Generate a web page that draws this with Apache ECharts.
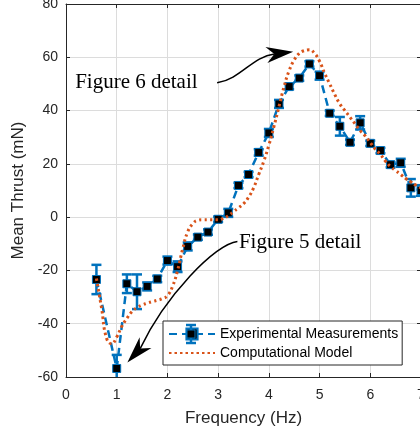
<!DOCTYPE html>
<html>
<head>
<meta charset="utf-8">
<script src="https://cdn.jsdelivr.net/npm/echarts@6/dist/echarts.min.js"></script>
<style>
html, body { margin: 0; padding: 0; background: #fff; }
#chart { width: 420px; height: 431px; }
</style>
</head>
<body>
<div id="chart"></div>
<script>
// experimental measurements (Hz, mN) with +/- error
var expFreq = [0.6, 1.0, 1.2, 1.4, 1.6, 1.8, 2.0, 2.2, 2.4, 2.6, 2.8, 3.0, 3.2, 3.4, 3.6, 3.8,
    4.0, 4.2, 4.4, 4.6, 4.8, 5.0, 5.2, 5.4, 5.6, 5.8, 6.0, 6.2, 6.4, 6.6, 6.8, 7.0];
var expThrust = [-23.4, -56.8, -25, -28, -26, -23.2, -16.3, -18.6, -11, -7.5, -5.6, -0.8, 1.6, 11.9, 16, 24.3,
    31.6, 42.5, 49, 52.2, 57.5, 53.1, 39, 34.1, 28.1, 35.4, 27.7, 25, 19.7, 20.4, 11, 10];
var expErr = [5.5, 5.1, 3.5, 6.5, 1.5, 1.2, 1.5, 2, 1.5, 1, 1, 1, 1.5, 1, 1, 1.2,
    1.5, 1.5, 1, 1, 1, 1.5, 1, 3.5, 1, 2.5, 1, 1, 1, 1.5, 3.3, 2];

// computational model curve
var modelFreq = [0.6, 0.7, 0.8, 0.9, 1.0, 1.1, 1.2, 1.3, 1.4, 1.5, 1.6, 1.7, 1.8, 1.9, 2.0, 2.1, 2.2, 2.3,
    2.4, 2.5, 2.6, 2.7, 2.8, 2.9, 3.0, 3.1, 3.2, 3.3, 3.4, 3.5, 3.6, 3.7, 3.8, 3.9, 4.0, 4.1, 4.2, 4.3,
    4.4, 4.5, 4.6, 4.7, 4.8, 4.9, 5.0, 5.1, 5.2, 5.3, 5.4, 5.5, 5.6, 5.7, 5.8, 5.9, 6.0, 6.1, 6.2, 6.3,
    6.4, 6.5, 6.6, 6.7, 6.8, 6.9, 7.0];
var modelThrust = [-23, -34, -45.5, -47.5, -45, -41, -38, -35.5, -34, -33, -32.3, -31.7, -31.2, -30.6, -29.5, -26, -20, -12,
    -5.5, -2.5, -1.2, -1, -1, -1, -1, -0.5, 0.5, 2, 3.5, 5, 7.5, 11, 16, 21, 27, 34, 41.5, 49,
    55, 59, 61.5, 62.5, 62.8, 61.5, 58.5, 54, 50, 46, 42.5, 40, 37.5, 35, 32.5, 30.5, 28, 25.5, 23.5, 21,
    19, 17.5, 16, 14.5, 13.2, 12, 11];

var xTicks = [0, 1, 2, 3, 4, 5, 6, 7];
var yTicks = [-60, -40, -20, 0, 20, 40, 60, 80];

var blue = '#0072BD';
var orange = '#D95319';
var axisColor = '#262626';

var expData = expFreq.map(function (f, i) { return [f, expThrust[i]]; });
var errData = expFreq.map(function (f, i) { return [f, expThrust[i] - expErr[i], expThrust[i] + expErr[i]]; });
var modelData = modelFreq.map(function (f, i) { return [f, modelThrust[i]]; });

var chart = echarts.init(document.getElementById('chart'));

function errorBar(params, api) {
    var x = api.value(0);
    var top = api.coord([x, api.value(2)]);
    var bot = api.coord([x, api.value(1)]);
    var hw = 5;
    var st = { stroke: blue, lineWidth: 2.5 };
    return {
        type: 'group',
        children: [
            { type: 'line', shape: { x1: top[0], y1: top[1], x2: bot[0], y2: bot[1] }, style: st },
            { type: 'line', shape: { x1: top[0] - hw, y1: top[1], x2: top[0] + hw, y2: top[1] }, style: st },
            { type: 'line', shape: { x1: bot[0] - hw, y1: bot[1], x2: bot[0] + hw, y2: bot[1] }, style: st }
        ]
    };
}

var tickFont = { fontFamily: 'Liberation Sans', fontSize: 14, color: axisColor };

chart.setOption({
    animation: false,
    grid: { left: 66, top: 4, width: 355, height: 373, containLabel: false, outerBoundsMode: 'none' },
    legend: {
        left: 163, top: 321,
        orient: 'vertical',
        data: ['Experimental Measurements', { name: 'Computational Model', itemStyle: { opacity: 0 } }],
        itemWidth: 46, itemHeight: 14, itemGap: 5, itemTextGap: 7,
        padding: [6, 4, 5, 5],
        backgroundColor: '#fff',
        borderColor: axisColor, borderWidth: 1, borderRadius: 0,
        textStyle: { fontFamily: 'Liberation Sans', fontSize: 14, color: '#000' }
    },
    xAxis: [{
        type: 'value', min: 0, max: 7, interval: 1,
        name: 'Frequency (Hz)', nameLocation: 'middle', nameGap: 33,
        nameTextStyle: { fontFamily: 'Liberation Sans', fontSize: 17, color: axisColor },
        axisLine: { onZero: false, lineStyle: { color: axisColor, width: 1 } },
        axisTick: { inside: true, length: 4, lineStyle: { color: axisColor } },
        axisLabel: Object.assign({ margin: 11, formatter: function (v) { return xTicks.indexOf(v) >= 0 ? String(v) : ''; } }, tickFont),
        splitLine: { show: true, lineStyle: { color: '#dcdcdc', width: 1 } }
    }, {
        type: 'value', position: 'top', min: 0, max: 7, interval: 1,
        axisLine: { onZero: false, lineStyle: { color: axisColor, width: 1 } },
        axisTick: { inside: true, length: 4, lineStyle: { color: axisColor } },
        axisLabel: { show: false }, splitLine: { show: false }
    }],
    yAxis: [{
        type: 'value', min: -60, max: 80, interval: 20,
        name: 'Mean Thrust (mN)', nameLocation: 'middle', nameGap: 38,
        nameTextStyle: { fontFamily: 'Liberation Sans', fontSize: 17, color: axisColor },
        axisLine: { show: true, onZero: false, lineStyle: { color: axisColor, width: 1 } },
        axisTick: { show: true, inside: true, length: 4, lineStyle: { color: axisColor } },
        axisLabel: Object.assign({ margin: 8, formatter: function (v) { return yTicks.indexOf(v) >= 0 ? String(v) : ''; } }, tickFont),
        splitLine: { show: true, lineStyle: { color: '#dcdcdc', width: 1 } }
    }, {
        type: 'value', position: 'right', min: -60, max: 80, interval: 20,
        axisLine: { show: true, onZero: false, lineStyle: { color: axisColor, width: 1 } },
        axisTick: { show: true, inside: true, length: 4, lineStyle: { color: axisColor } },
        axisLabel: { show: false }, splitLine: { show: false }
    }],
    series: [{
        name: 'errorBars',
        type: 'custom',
        renderItem: errorBar,
        data: errData,
        clip: true,
        z: 2
    }, {
        name: 'Experimental Measurements',
        type: 'line',
        data: expData,
        symbol: 'rect',
        symbolSize: 8,
        itemStyle: { color: '#000', borderColor: blue, borderWidth: 1 },
        lineStyle: { color: blue, width: 2.5, type: [8, 5] },
        z: 3
    }, {
        name: 'Computational Model',
        type: 'line',
        data: modelData,
        smooth: true,
        showSymbol: false,
        symbol: 'none',
        itemStyle: { color: orange },
        lineStyle: { color: orange, width: 3, type: [2.5, 3] },
        z: 4
    }]
});

// annotations, anchored in data coordinates
var note6 = { text: 'Figure 6 detail', at: [0.18, 50.4], curve: [[2.98, 50.4], [3.45, 51.9], [3.67, 60.2], [4.48, 62.1]] };
var note5 = { text: 'Figure 5 detail', at: [3.41, -9.5], curve: [[3.38, -9.1], [2.95, -9.9], [1.96, -29.5], [1.21, -54.6]] };

function px(p) { return chart.convertToPixel({ gridIndex: 0 }, p); }

function arrowGraphics(curve, dir) {
    var p = curve.map(px);
    var tip = p[3];
    var len = Math.sqrt(dir[0] * dir[0] + dir[1] * dir[1]);
    var d = [dir[0] / len, dir[1] / len];
    var n = [-d[1], d[0]];
    var L = 27, hw = 8, notch = 19;
    var back = [tip[0] - d[0] * L, tip[1] - d[1] * L];
    var mid = [tip[0] - d[0] * notch, tip[1] - d[1] * notch];
    return [{
        type: 'bezierCurve',
        shape: { x1: p[0][0], y1: p[0][1], cpx1: p[1][0], cpy1: p[1][1], cpx2: p[2][0], cpy2: p[2][1], x2: mid[0], y2: mid[1] },
        style: { stroke: '#000', lineWidth: 1.5, fill: null },
        z: 10
    }, {
        type: 'polygon',
        shape: { points: [tip, [back[0] + n[0] * hw, back[1] + n[1] * hw], mid, [back[0] - n[0] * hw, back[1] - n[1] * hw]] },
        style: { fill: '#000' },
        z: 10
    }];
}

function noteText(note) {
    var p = px(note.at);
    return {
        type: 'text', x: p[0], y: p[1], z: 10,
        style: { text: note.text, fontFamily: 'Liberation Serif', fontSize: 21, fill: '#000', verticalAlign: 'middle', align: 'left' }
    };
}

// small error bar inside the legend icon
var legendBar = [
    { type: 'line', shape: { x1: 191, y1: 325, x2: 191, y2: 343 }, style: { stroke: blue, lineWidth: 2.5 }, z: 20 },
    { type: 'line', shape: { x1: 186, y1: 325, x2: 196, y2: 325 }, style: { stroke: blue, lineWidth: 2.5 }, z: 20 },
    { type: 'line', shape: { x1: 186, y1: 343, x2: 196, y2: 343 }, style: { stroke: blue, lineWidth: 2.5 }, z: 20 },
    { type: 'rect', shape: { x: 187, y: 330, width: 8, height: 8 }, style: { fill: '#000', stroke: blue, lineWidth: 1 }, z: 21 }
];

chart.setOption({
    graphic: [noteText(note6), noteText(note5)]
        .concat(arrowGraphics(note6.curve, [41, -5]))
        .concat(arrowGraphics(note5.curve, [-20, 22]))
        .concat(legendBar)
});
</script>
</body>
</html>
